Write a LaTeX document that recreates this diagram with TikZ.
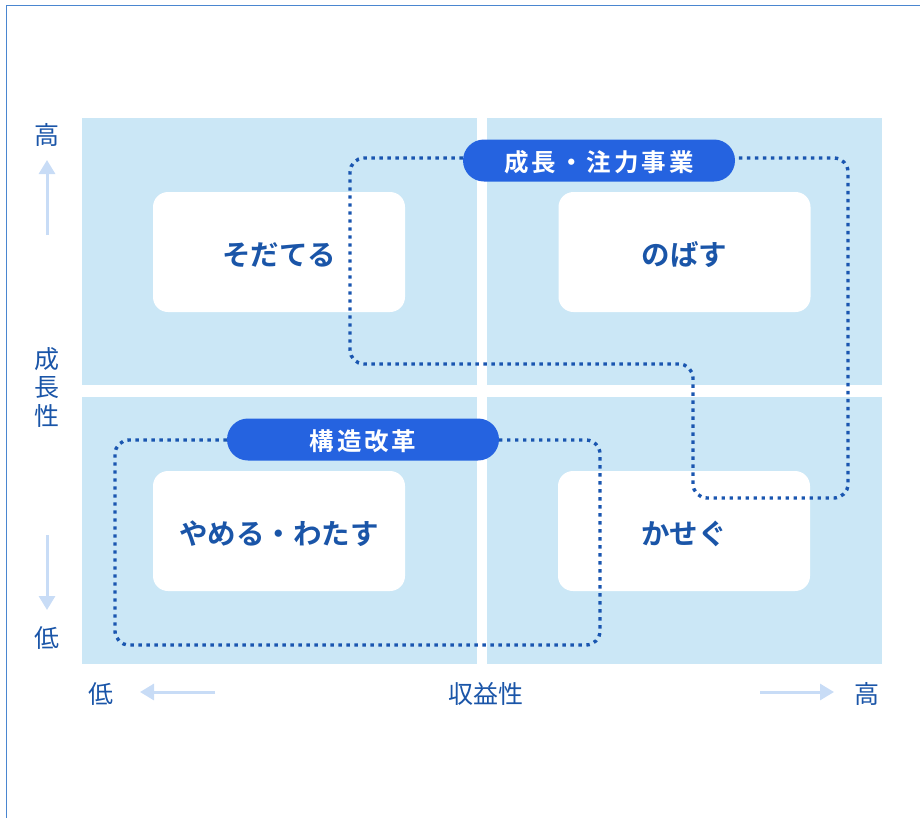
\documentclass[tikz,border=0pt]{standalone}
\usepackage{fontspec}
\setmainfont{Noto Sans CJK JP}
\newfontfamily\jp{Noto Sans CJK JP}
\newfontfamily\jpb{Noto Sans CJK JP Bold}
\newfontfamily\jpsp[LetterSpace=12]{Noto Sans CJK JP Bold}
\usetikzlibrary{arrows.meta}
\definecolor{quad}{HTML}{CBE7F6}
\definecolor{frameblue}{HTML}{4A86D0}
\definecolor{txtblue}{HTML}{1A55A8}
\definecolor{pillblue}{HTML}{2563E0}
\definecolor{dotblue}{HTML}{1A56B0}
\definecolor{arrowlight}{HTML}{C8DCF6}
\newcommand{\dn}[2]{\raisebox{-#1}[\height][\depth]{#2}}
\tikzset{
  quadbox/.style={fill=quad, draw=none},
  whitebox/.style={fill=white, draw=none, rounded corners=15pt, minimum width=252pt, minimum height=120pt, inner sep=0pt, text=txtblue, font=\jpb\fontsize{28.5}{32}\selectfont},
  pill/.style={fill=pillblue, draw=none, rounded corners=21pt, minimum height=42pt, inner sep=0pt, text=white, font=\jpsp\fontsize{24.5}{28}\selectfont},
  dotline/.style={draw=dotblue, line width=3.4pt, dash pattern=on 3.4pt off 4.6pt, rounded corners=14pt},
  axislabel/.style={text=txtblue, font=\jp\fontsize{25}{28}\selectfont, inner sep=0pt},
  axisarrow/.style={draw=arrowlight, line width=3pt, -{Triangle[length=14pt,width=16pt]}}
}
\begin{document}
\begin{tikzpicture}[x=1pt,y=-1pt]
\useasboundingbox (0,0) rectangle (920,817);
% frame
\draw[frameblue, line width=1.5pt] (6.5,830) -- (6.5,5.5) -- (930,5.5);
% quadrants
\fill[quadbox] (82,118) rectangle (477,385);
\fill[quadbox] (487,118) rectangle (882,385);
\fill[quadbox] (82,397) rectangle (477,664);
\fill[quadbox] (487,397) rectangle (882,664);
% white boxes
\node[whitebox] (tl) at (279,252) {\dn{3pt}{そだてる}};
\node[whitebox] (tr) at (684.5,252) {\dn{3pt}{のばす}};
\node[whitebox] (bl) at (279,531) {\dn{3pt}{やめる・わたす}};
\node[whitebox] (br) at (684,531) {\dn{3pt}{かせぐ}};
% pills
\node[pill, minimum width=272pt] (p1) at (599,160.5) {\dn{2pt}{成長・注力事業}};
\node[pill, minimum width=272pt] (p2) at (363,439.5) {\dn{2pt}{構造改革}};
% dotted paths
\draw[dotline] (p1.west |- 0,158) -- (350,158) -- (350,364) -- (693,364) -- (693,498) -- (848,498) -- (848,158) -- (p1.east |- 0,158);
\draw[dotline] (p2.west |- 0,440) -- (115,440) -- (115,645) -- (600,645) -- (600,440) -- (p2.east |- 0,440);
% axis labels
\node[axislabel] (hi) at (47,135) {高};
\node[axislabel] (g1) at (47,359) {成};
\node[axislabel] (g2) at (47,388) {長};
\node[axislabel] (g3) at (47,416) {性};
\node[axislabel] (lo) at (47,638) {低};
\coordinate (ua0) at (47,235);
\coordinate (ua1) at (47,160);
\coordinate (da0) at (47,535);
\coordinate (da1) at (47,610);
\draw[axisarrow] (ua0) -- (ua1);
\draw[axisarrow] (da0) -- (da1);
\node[axislabel] (xlo) at (101,694) {低};
\node[axislabel] (xmid) at (486,694) {収益性};
\node[axislabel] (xhi) at (867,694) {高};
\coordinate (la0) at (215,692);
\coordinate (la1) at (140,692);
\coordinate (ra0) at (760,692);
\coordinate (ra1) at (834,692);
\draw[axisarrow] (la0) -- (la1);
\draw[axisarrow] (ra0) -- (ra1);
\end{tikzpicture}
\end{document}
